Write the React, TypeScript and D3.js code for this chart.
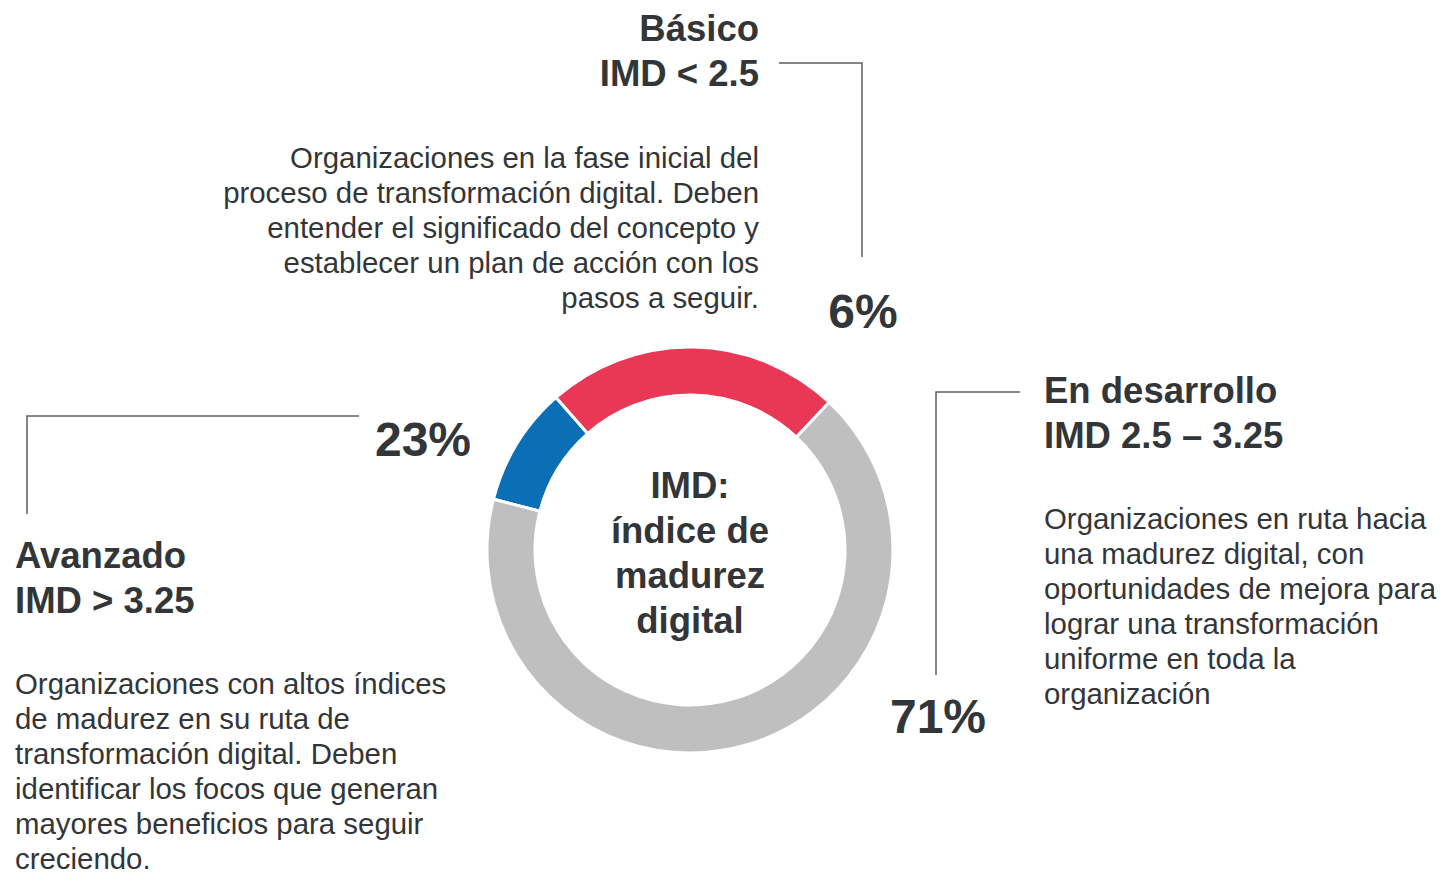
import React from "react";
import * as d3 from "d3";

// donut arcs, shares (clockwise from the blue one)
const arcNames = ["azul", "rojo", "gris"];
const arcShares = [9.5, 23.5, 67];
const arcColors = ["#0A6FB4", "#E83856", "#BFBFBF"];

// maturity levels
const levels = ["Básico", "En desarrollo", "Avanzado"];
const ranges = ["IMD < 2.5", "IMD 2.5 – 3.25", "IMD > 3.25"];
const percents = ["6%", "71%", "23%"];
const descriptions = [
  [
    "Organizaciones en la fase inicial del",
    "proceso de transformación digital. Deben",
    "entender el significado del concepto y",
    "establecer un plan de acción con los",
    "pasos a seguir.",
  ],
  [
    "Organizaciones en ruta hacia",
    "una madurez digital, con",
    "oportunidades de mejora para",
    "lograr una transformación",
    "uniforme en toda la",
    "organización",
  ],
  [
    "Organizaciones con altos índices",
    "de madurez en su ruta de",
    "transformación digital. Deben",
    "identificar los focos que generan",
    "mayores beneficios para seguir",
    "creciendo.",
  ],
];
const centerLines = ["IMD:", "índice de", "madurez", "digital"];

const W = 1440;
const H = 875;
const FONT = "'Liberation Sans', Arial, Helvetica, sans-serif";
const INK = "#333638";
const LINE = "#5f5f5f";

// where each block sits: heading anchor, body anchor, % label, leader line
const blocks = [
  { x: 759, anchor: "end", headY: 41, bodyY: 168, pct: [863, 328], leader: [[779, 63], [862, 63], [862, 257]] },
  { x: 1044, anchor: "start", headY: 403, bodyY: 529, pct: [938, 733], leader: [[1020, 392], [936, 392], [936, 675]] },
  { x: 15, anchor: "start", headY: 568, bodyY: 694, pct: [423, 456], leader: [[359, 416], [27, 416], [27, 514]] },
];

export default function App() {
  const cx = 690;
  const cy = 550;
  const outerR = 203;
  const innerR = 155;

  const start = (-75.5 * Math.PI) / 180;
  const pie = d3
    .pie<number>()
    .sort(null)
    .value((d) => d)
    .startAngle(start)
    .endAngle(start + 2 * Math.PI);
  const arcs = pie(arcShares);
  const arc = d3.arc<d3.PieArcDatum<number>>().innerRadius(innerR).outerRadius(outerR);
  const line = d3.line();

  return (
    <svg
      width={W}
      height={H}
      viewBox={`0 0 ${W} ${H}`}
      style={{ position: "absolute", left: 0, top: 0, background: "#fff" }}
      fontFamily={FONT}
    >
      <g transform={`translate(${cx},${cy})`}>
        {arcs.map((a, i) => (
          <path key={arcNames[i]} d={arc(a) || ""} fill={arcColors[i]} stroke="#fff" strokeWidth={3} />
        ))}
        {centerLines.map((t, i) => (
          <text key={t} x={0} y={-52 + i * 45} textAnchor="middle" fontSize={36.5} fontWeight="bold" fill={INK}>
            {t}
          </text>
        ))}
      </g>

      {blocks.map((b, i) => (
        <g key={levels[i]}>
          <path d={line(b.leader as [number, number][]) || ""} fill="none" stroke={LINE} strokeWidth={1.5} />
          <text x={b.x} y={b.headY} textAnchor={b.anchor} fontSize={36.5} fontWeight="bold" fill={INK}>
            {levels[i]}
          </text>
          <text x={b.x} y={b.headY + 45} textAnchor={b.anchor} fontSize={36.5} fontWeight="bold" fill={INK}>
            {ranges[i]}
          </text>
          {descriptions[i].map((t, j) => (
            <text key={j} x={b.x} y={b.bodyY + j * 35} textAnchor={b.anchor} fontSize={29.4} fill={INK}>
              {t}
            </text>
          ))}
          <text x={b.pct[0]} y={b.pct[1]} textAnchor="middle" fontSize={48} fontWeight="bold" fill={INK}>
            {percents[i]}
          </text>
        </g>
      ))}
    </svg>
  );
}
